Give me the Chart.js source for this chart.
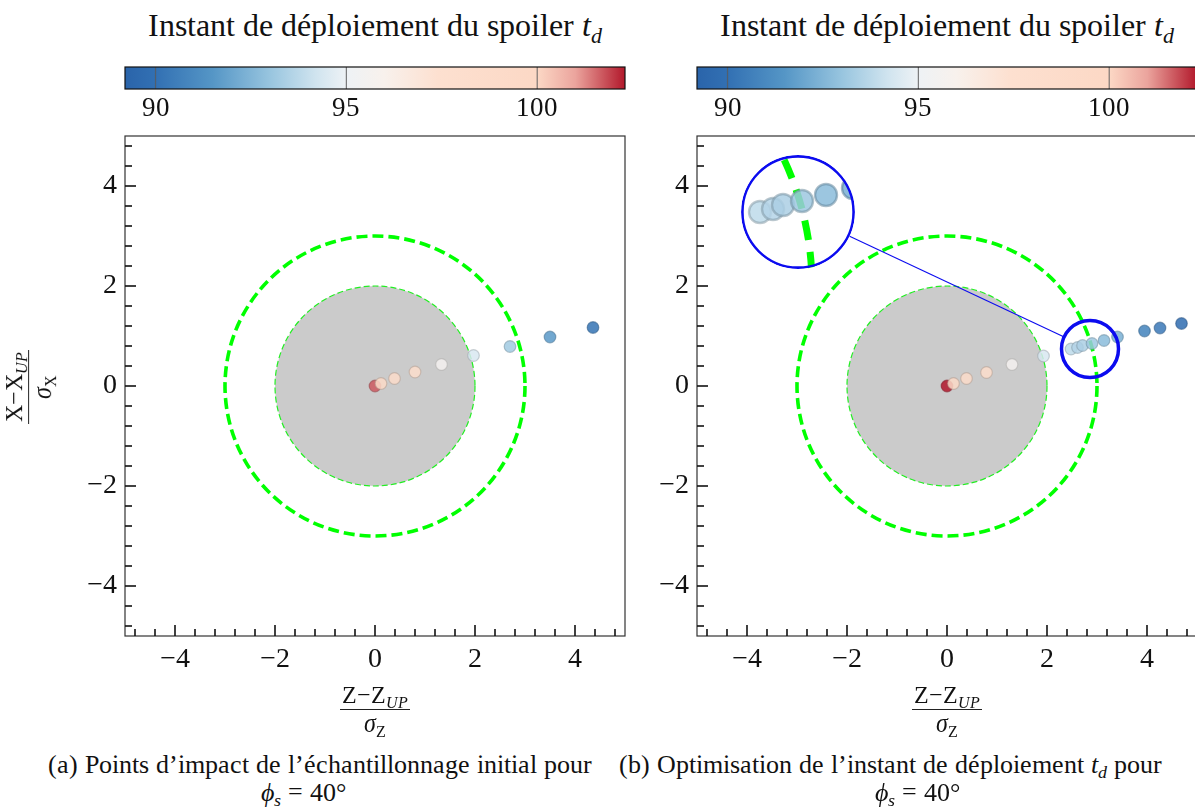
<!DOCTYPE html>
<html>
<head>
<meta charset="utf-8">
<script src="https://cdn.jsdelivr.net/npm/chart.js@4.4.1/dist/chart.umd.min.js"></script>
<style>
  @font-face { font-family: "FigSerif"; font-style: normal; src: local("Liberation Serif"), local("LiberationSerif"); }
  @font-face { font-family: "FigSerif"; font-style: italic; src: local("Liberation Serif Italic"), local("LiberationSerif-Italic"); }
  body { margin: 0; width: 1195px; height: 807px; overflow: hidden; background: #fff; position: relative;
         font-family: "FigSerif", "Liberation Serif", serif; color: #111; }
  .abs { position: absolute; white-space: nowrap; }
  canvas.abs { display: block; }
  .title { font-size: 32px; transform: translateX(-50%); }
  .cap { font-size: 26px; }
  .center { transform: translateX(-50%); }
  sub { font-size: 0.68em; vertical-align: -0.3em; line-height: 0; }
  .frac { font-size: 24px; text-align: center; line-height: 1.1; }
  .frac .num { border-bottom: 1.3px solid #222; padding: 0 2px 1px; }
  .frac .den { padding-top: 1px; }
  #inset { border-radius: 50%; overflow: hidden; }
  #inset canvas { display: block; }
</style>
</head>
<body>

<div class="abs title" style="left:375px;top:7px">Instant de déploiement du spoiler <i>t<sub>d</sub></i></div>
<div class="abs title" style="left:947px;top:7px">Instant de déploiement du spoiler <i>t<sub>d</sub></i></div>

<canvas id="cbA" class="abs" width="640" height="70" style="left:0;top:55px"></canvas>
<canvas id="cbB" class="abs" width="640" height="70" style="left:572px;top:55px"></canvas>
<canvas id="mainA" class="abs" width="640" height="580" style="left:0;top:120px"></canvas>
<canvas id="mainB" class="abs" width="640" height="580" style="left:572px;top:120px"></canvas>
<div id="inset" class="abs"><canvas id="insetB"></canvas></div>

<div class="abs frac center" style="left:375px;top:682px">
  <div class="num">Z−Z<sub><i>UP</i></sub></div>
  <div class="den"><i>σ</i><sub>Z</sub></div>
</div>
<div class="abs frac center" style="left:947px;top:682px">
  <div class="num">Z−Z<sub><i>UP</i></sub></div>
  <div class="den"><i>σ</i><sub>Z</sub></div>
</div>
<div class="abs frac" style="left:29px;top:387px;transform:translate(-50%,-50%) rotate(-90deg)">
  <div class="num">X−X<sub><i>UP</i></sub></div>
  <div class="den"><i>σ</i><sub>X</sub></div>
</div>

<div class="abs cap" style="left:48px;top:750px">(a) Points d’impact de l’échantillonnage initial pour</div>
<div class="abs cap center" style="left:303px;top:778px"><i>ϕ<sub>s</sub></i> = 40°</div>
<div class="abs cap" style="left:619px;top:750px">(b) Optimisation de l’instant de déploiement <i>t<sub>d</sub></i> pour</div>
<div class="abs cap center" style="left:917px;top:778px"><i>ϕ<sub>s</sub></i> = 40°</div>

<script>
// colour scale (spoiler deployment instant t_d)
const tdMin = 89.2;
const tdMax = 102.3;
const cbTicks = [90, 95, 100];
const cmapStops = [
  [89.2, "#2a64aa"], [90.0, "#3270b3"], [91.5, "#5596c6"], [93.0, "#98c5df"],
  [94.2, "#d0e4ef"], [95.0, "#eef2f5"], [96.0, "#f8f1ec"], [97.4, "#fde0d0"],
  [100.0, "#fcd8c5"], [101.0, "#eba49d"], [102.3, "#b2182b"]
];

// axes
const axisTicks = [-4, -2, 0, 2, 4];
const minorTicks = [-4.8, -4.4, -3.6, -3.2, -2.8, -2.4, -1.6, -1.2, -0.8, -0.4,
                    0.4, 0.8, 1.2, 1.6, 2.4, 2.8, 3.2, 3.6, 4.4, 4.8];
const innerRadius = 2;
const outerRadius = 3;

// (a) initial sampling: impact points
const initZ  = [0.00, 0.12, 0.39, 0.80, 1.33, 1.97, 2.70, 3.50, 4.36];
const initX  = [0.00, 0.05, 0.15, 0.28, 0.43, 0.61, 0.79, 0.98, 1.17];
const initTd = [101.7, 99.2, 98.8, 98.0, 95.6, 94.4, 93.2, 91.6, 90.1];

// (b) optimisation of t_d
const optZ  = [0.00, 0.13, 0.39, 0.79, 1.30, 1.93, 2.48, 2.61, 2.71, 2.90, 3.14, 3.41, 3.95, 4.26, 4.69];
const optX  = [0.00, 0.05, 0.15, 0.27, 0.43, 0.60, 0.74, 0.77, 0.81, 0.85, 0.91, 0.98, 1.10, 1.16, 1.25];
const optTd = [102.3, 99.3, 98.8, 98.0, 95.6, 94.4, 93.8, 93.6, 93.4, 93.1, 92.7, 92.3, 90.7, 90.3, 89.7];

// zoom ring and inset (panel b, data units)
const ring  = { z: 2.86, x: 0.74, r: 0.57 };
const inset = { z: -2.98, x: 3.48, r: 1.14 };

const FAMILY = "FigSerif, 'Liberation Serif', serif";
Chart.defaults.font.family = FAMILY;
Chart.defaults.color = "#111";

function hexRgb(h) {
  return [1, 3, 5].map(i => parseInt(h.slice(i, i + 2), 16));
}
function tdRgb(v) {
  if (v <= cmapStops[0][0]) return hexRgb(cmapStops[0][1]);
  for (let i = 1; i < cmapStops.length; i++) {
    const [v1, c1] = cmapStops[i];
    if (v <= v1) {
      const [v0, c0] = cmapStops[i - 1];
      const t = (v - v0) / (v1 - v0);
      const a = hexRgb(c0), b = hexRgb(c1);
      return a.map((c, k) => Math.round(c + (b[k] - c) * t));
    }
  }
  return hexRgb(cmapStops[cmapStops.length - 1][1]);
}
const fillOf = v => { const c = tdRgb(v); return `rgba(${c[0]},${c[1]},${c[2]},0.85)`; };
const edgeOf = v => { const c = tdRgb(v).map(k => Math.round(k * 0.72)); return `rgba(${c[0]},${c[1]},${c[2]},0.55)`; };
const fmt = v => (v < 0 ? "−" + Math.abs(v) : String(v));
const noPad = s => { s.paddingTop = 0; s.paddingBottom = 0; s.paddingLeft = 0; s.paddingRight = 0; };

// grey disk, dashed circles, frame, inner ticks, zoom ring
const figPlugin = {
  id: "fig",
  beforeDatasetsDraw(chart, args, o) {
    const { ctx, chartArea: a, scales: { x, y } } = chart;
    const cx = x.getPixelForValue(0), cy = y.getPixelForValue(0);
    ctx.save();
    ctx.beginPath(); ctx.rect(a.left, a.top, a.width, a.height); ctx.clip();
    if (o.disk) {
      const r2 = x.getPixelForValue(innerRadius) - cx;
      ctx.beginPath(); ctx.arc(cx, cy, r2, 0, 2 * Math.PI);
      ctx.fillStyle = "#cbcbcb"; ctx.fill();
      ctx.setLineDash([6, 3]); ctx.lineWidth = 1.2; ctx.strokeStyle = "#22ee22"; ctx.stroke();
    }
    const r3 = x.getPixelForValue(outerRadius) - cx;
    ctx.beginPath(); ctx.arc(cx, cy, r3, 0, 2 * Math.PI);
    ctx.setLineDash(o.dash); ctx.lineDashOffset = o.dashOffset || 0;
    ctx.lineWidth = o.lw; ctx.strokeStyle = "#00ff00"; ctx.stroke();
    ctx.restore();
  },
  afterDatasetsDraw(chart, args, o) {
    if (!o.ring) return;
    const { ctx, scales: { x, y } } = chart;
    const rc = [x.getPixelForValue(o.ring.z), y.getPixelForValue(o.ring.x)];
    const rr = x.getPixelForValue(o.ring.z + o.ring.r) - rc[0];
    const ic = [x.getPixelForValue(o.inset.z), y.getPixelForValue(o.inset.x)];
    const ir = x.getPixelForValue(o.inset.z + o.inset.r) - ic[0];
    const dx = rc[0] - ic[0], dy = rc[1] - ic[1], d = Math.hypot(dx, dy);
    const ux = dx / d, uy = dy / d;
    ctx.save();
    ctx.strokeStyle = "#0b0bef";
    ctx.lineWidth = 1.1;
    ctx.beginPath();
    ctx.moveTo(ic[0] + ux * ir, ic[1] + uy * ir);
    ctx.lineTo(rc[0] - ux * rr, rc[1] - uy * rr);
    ctx.stroke();
    ctx.lineWidth = 3.5;
    ctx.beginPath(); ctx.arc(rc[0], rc[1], rr, 0, 2 * Math.PI); ctx.stroke();
    ctx.restore();
  },
  afterDraw(chart, args, o) {
    const { ctx, chartArea: a, scales: { x, y } } = chart;
    ctx.save();
    if (o.frame) {
      ctx.strokeStyle = "#333"; ctx.lineWidth = 1.2;
      ctx.strokeRect(a.left, a.top, a.width, a.height);
      ctx.strokeStyle = "#111"; ctx.lineWidth = 1.6;
      const mark = (vals, len) => {
        vals.forEach(v => {
          const px = x.getPixelForValue(v);
          ctx.beginPath(); ctx.moveTo(px, a.bottom); ctx.lineTo(px, a.bottom - len); ctx.stroke();
          const py = y.getPixelForValue(v);
          ctx.beginPath(); ctx.moveTo(a.left, py); ctx.lineTo(a.left + len, py); ctx.stroke();
        });
      };
      mark(axisTicks, 11);
      mark(minorTicks, 7);
    }
    if (o.insetBorder) {
      const cx = (a.left + a.right) / 2, cy = (a.top + a.bottom) / 2;
      ctx.strokeStyle = "#0b0bef"; ctx.lineWidth = 2.6;
      ctx.beginPath(); ctx.arc(cx, cy, a.width / 2 - 1.4, 0, 2 * Math.PI); ctx.stroke();
    }
    ctx.restore();
  }
};

// colour bar
const cbPlugin = {
  id: "cb",
  beforeDatasetsDraw(chart) {
    const { ctx, chartArea: a, scales: { x } } = chart;
    const g = ctx.createLinearGradient(x.getPixelForValue(tdMin), 0, x.getPixelForValue(tdMax), 0);
    cmapStops.forEach(([v, c]) => g.addColorStop((v - tdMin) / (tdMax - tdMin), c));
    ctx.save();
    ctx.fillStyle = g;
    ctx.fillRect(a.left, a.top, a.width, a.height);
    ctx.strokeStyle = "rgba(90,90,90,0.8)"; ctx.lineWidth = 1.2;
    cbTicks.forEach(v => {
      const px = x.getPixelForValue(v);
      ctx.beginPath(); ctx.moveTo(px, a.top); ctx.lineTo(px, a.bottom); ctx.stroke();
    });
    ctx.strokeStyle = "#111"; ctx.lineWidth = 1.2;
    ctx.strokeRect(a.left, a.top, a.width, a.height);
    ctx.restore();
  }
};

function colorBar(id) {
  return new Chart(document.getElementById(id), {
    type: "scatter",
    data: { datasets: [] },
    options: {
      responsive: false, animation: false, events: [], devicePixelRatio: 1,
      layout: { autoPadding: false, padding: { left: 125, right: 15, top: 12, bottom: 0 } },
      plugins: { legend: { display: false }, tooltip: { enabled: false } },
      scales: {
        x: {
          type: "linear", min: tdMin, max: tdMax,
          grid: { display: false, drawTicks: false }, border: { display: false },
          afterBuildTicks: s => { s.ticks = cbTicks.map(v => ({ value: v })); },
          afterFit: s => { noPad(s); s.height = 36; },
          ticks: { padding: 4, font: { family: FAMILY, size: 27 }, color: "#111" }
        },
        y: { display: false, min: 0, max: 1 }
      }
    },
    plugins: [cbPlugin]
  });
}

function impactChart(id, zs, xs, tds, fig) {
  return new Chart(document.getElementById(id), {
    type: "scatter",
    data: {
      datasets: [{
        data: zs.map((z, i) => ({ x: z, y: xs[i] })),
        backgroundColor: tds.map(fillOf),
        borderColor: tds.map(edgeOf),
        borderWidth: 1.2,
        pointRadius: 5.8,
        pointHoverRadius: 5.8
      }]
    },
    options: {
      responsive: false, animation: false, events: [], devicePixelRatio: 1,
      layout: { autoPadding: false, padding: { left: 0, right: 15, top: 16, bottom: 0 } },
      plugins: { legend: { display: false }, tooltip: { enabled: false }, fig: fig },
      scales: {
        x: {
          type: "linear", min: -5, max: 5,
          grid: { display: false, drawTicks: false }, border: { display: false },
          afterBuildTicks: s => { s.ticks = axisTicks.map(v => ({ value: v })); },
          afterFit: s => { noPad(s); s.height = 64; },
          ticks: { padding: 7, font: { family: FAMILY, size: 28 }, color: "#111", callback: fmt }
        },
        y: {
          type: "linear", min: -5, max: 5,
          grid: { display: false, drawTicks: false }, border: { display: false },
          afterBuildTicks: s => { s.ticks = axisTicks.map(v => ({ value: v })); },
          afterFit: s => { noPad(s); s.width = 125; },
          ticks: { padding: 8, font: { family: FAMILY, size: 28 }, color: "#111", callback: fmt }
        }
      }
    },
    plugins: [figPlugin]
  });
}

function build() {
  colorBar("cbA");
  colorBar("cbB");
  impactChart("mainA", initZ, initX, initTd, { frame: true, disk: true, dash: [11, 5], lw: 3.6 });
  const chartB = impactChart("mainB", optZ, optX, optTd,
    { frame: true, disk: true, dash: [11, 5], lw: 3.6, ring: ring, inset: inset });

  // inset placed from panel b's own scales
  const sx = chartB.scales.x, sy = chartB.scales.y;
  const canvasB = document.getElementById("mainB");
  const R = sx.getPixelForValue(inset.z + inset.r) - sx.getPixelForValue(inset.z);
  const box = document.getElementById("inset");
  box.style.left = (canvasB.offsetLeft + sx.getPixelForValue(inset.z) - R) + "px";
  box.style.top = (canvasB.offsetTop + sy.getPixelForValue(inset.x) - R) + "px";
  box.style.width = box.style.height = (2 * R) + "px";
  const ic = document.getElementById("insetB");
  ic.width = ic.height = Math.round(2 * R);
  ic.style.width = ic.style.height = Math.round(2 * R) + "px";

  new Chart(ic, {
    type: "scatter",
    data: {
      datasets: [{
        data: optZ.map((z, i) => ({ x: z, y: optX[i] })),
        backgroundColor: optTd.map(fillOf),
        borderColor: optTd.map(edgeOf),
        borderWidth: 2.4,
        pointRadius: 11,
        pointHoverRadius: 11
      }]
    },
    options: {
      responsive: false, animation: false, events: [], devicePixelRatio: 1,
      layout: { autoPadding: false, padding: 0 },
      plugins: { legend: { display: false }, tooltip: { enabled: false },
                 fig: { dash: [20, 12], dashOffset: 6, lw: 7, insetBorder: true } },
      scales: {
        x: { display: false, min: ring.z - ring.r, max: ring.z + ring.r },
        y: { display: false, min: ring.x - ring.r, max: ring.x + ring.r }
      }
    },
    plugins: [figPlugin]
  });
}

Promise.all([document.fonts.load("28px FigSerif"), document.fonts.load("italic 28px FigSerif")])
  .then(build, build);
</script>
</body>
</html>
